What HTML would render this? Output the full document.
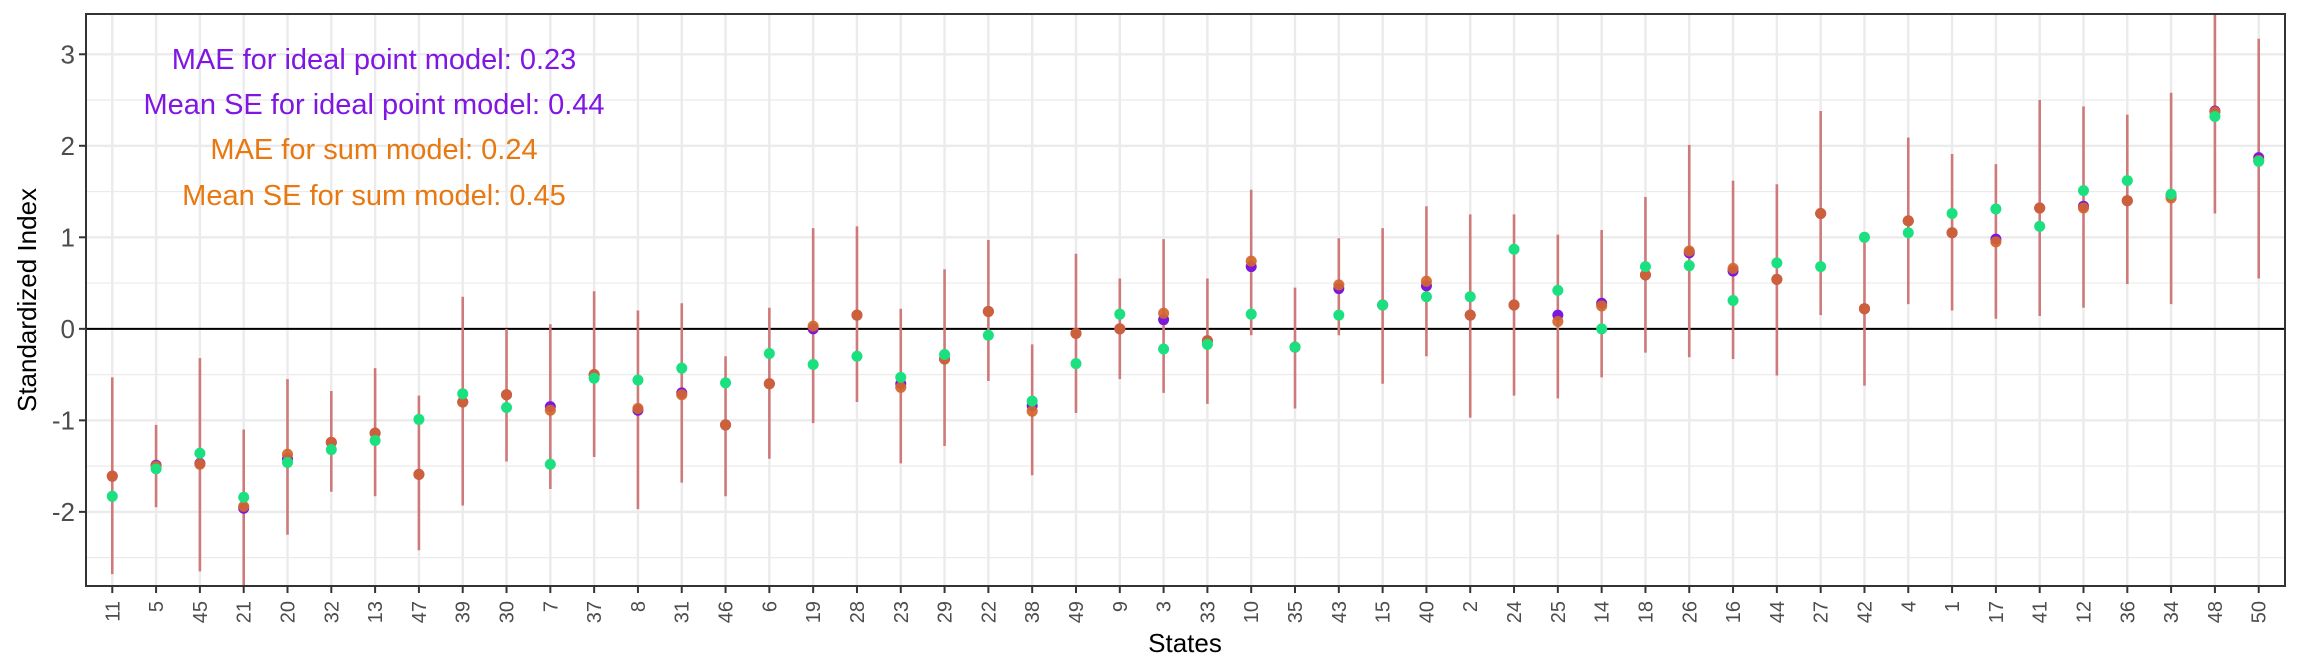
<!DOCTYPE html>
<html><head><meta charset="utf-8">
<style>
html,body{margin:0;padding:0;background:#fff;}
svg{display:block;font-family:"Liberation Sans",Arial,sans-serif;}
</style></head>
<body>
<svg id="chart" width="2304" height="672" viewBox="0 0 2304 672" xmlns="http://www.w3.org/2000/svg">
<rect x="0" y="0" width="2304" height="672" fill="#fff"/>
<g id="grid"></g>
<g id="marks"></g>
<g id="axes"></g>
<text x="374" y="69" font-size="29" fill="#7f16e3" text-anchor="middle">MAE for ideal point model: 0.23</text>
<text x="374" y="114" font-size="29" fill="#7f16e3" text-anchor="middle">Mean SE for ideal point model: 0.44</text>
<text x="374" y="159" font-size="29" fill="#e8780f" text-anchor="middle">MAE for sum model: 0.24</text>
<text x="374" y="205" font-size="29" fill="#e8780f" text-anchor="middle">Mean SE for sum model: 0.45</text>
<text x="1185" y="652" font-size="26" fill="#000" text-anchor="middle">States</text>
<text x="0" y="0" font-size="26" fill="#000" text-anchor="middle" transform="translate(36,300) rotate(-90)">Standardized Index</text>
</svg>
<script>
const categories=["11","5","45","21","20","32","13","47","39","30","7","37","8","31","46","6","19","28","23","29","22","38","49","9","3","33","10","35","43","15","40","2","24","25","14","18","26","16","44","27","42","4","1","17","41","12","36","34","48","50"];
const idealValues=[-1.61,-1.49,-1.47,-1.96,-1.42,-1.24,-1.14,-1.59,-0.80,-0.72,-0.85,-0.50,-0.89,-0.70,-1.05,-0.60,0.00,0.15,-0.60,-0.33,0.19,-0.84,-0.05,0.00,0.10,-0.13,0.68,-0.20,0.44,0.26,0.47,0.15,0.26,0.15,0.28,0.59,0.83,0.63,0.54,1.26,0.22,1.18,1.05,0.98,1.32,1.34,1.40,1.46,2.38,1.87];
const sumValues=[-1.61,-1.50,-1.48,-1.94,-1.37,-1.24,-1.14,-1.59,-0.80,-0.72,-0.89,-0.50,-0.87,-0.72,-1.05,-0.60,0.03,0.15,-0.64,-0.33,0.19,-0.90,-0.05,0.00,0.17,-0.13,0.74,-0.20,0.48,0.26,0.52,0.15,0.26,0.08,0.25,0.59,0.85,0.66,0.54,1.26,0.22,1.18,1.05,0.95,1.32,1.32,1.40,1.43,2.37,1.84];
const trueValues=[-1.83,-1.53,-1.36,-1.84,-1.46,-1.32,-1.22,-0.99,-0.71,-0.86,-1.48,-0.54,-0.56,-0.43,-0.59,-0.27,-0.39,-0.30,-0.53,-0.28,-0.07,-0.79,-0.38,0.16,-0.22,-0.17,0.16,-0.20,0.15,0.26,0.35,0.35,0.87,0.42,0.00,0.68,0.69,0.31,0.72,0.68,1.00,1.05,1.26,1.31,1.12,1.51,1.62,1.47,2.32,1.83];
const ciLow=[-2.68,-1.95,-2.65,-2.82,-2.25,-1.78,-1.83,-2.42,-1.93,-1.45,-1.75,-1.40,-1.97,-1.68,-1.83,-1.42,-1.03,-0.80,-1.47,-1.28,-0.57,-1.60,-0.92,-0.55,-0.70,-0.82,-0.07,-0.87,-0.07,-0.60,-0.30,-0.97,-0.73,-0.76,-0.53,-0.26,-0.31,-0.33,-0.51,0.15,-0.62,0.27,0.20,0.11,0.14,0.23,0.49,0.27,1.26,0.55];
const ciHigh=[-0.53,-1.05,-0.32,-1.10,-0.55,-0.68,-0.43,-0.73,0.35,0.00,0.05,0.41,0.20,0.28,-0.30,0.23,1.10,1.12,0.22,0.65,0.97,-0.17,0.82,0.55,0.98,0.55,1.52,0.45,0.99,1.10,1.34,1.25,1.25,1.03,1.08,1.44,2.01,1.62,1.58,2.38,0.99,2.09,1.91,1.80,2.50,2.43,2.34,2.58,3.45,3.17];
const yTicks=[-2,-1,0,1,2,3];

const NS="http://www.w3.org/2000/svg";
const L=86,R=2285,T=14,B=586,yMin=-2.81,yMax=3.44;
const n=categories.length;
function xs(i){return L+(i+0.6)*(R-L)/(n-1+1.2);}
function ys(v){v=Math.max(yMin,Math.min(yMax,v));return T+(yMax-v)/(yMax-yMin)*(B-T);}
function mk(tag,attrs,parent){const e=document.createElementNS(NS,tag);for(const k in attrs)e.setAttribute(k,attrs[k]);parent.appendChild(e);return e;}
const grid=document.getElementById('grid'),marks=document.getElementById('marks'),axes=document.getElementById('axes');

for(let v=-2.5;v<=3.5;v+=1){const l=mk('line',{x1:L,x2:R,y1:ys(v),y2:ys(v),stroke:'#ebebeb','stroke-width':1.2},grid);

}
yTicks.forEach(v=>{const l=mk('line',{x1:L,x2:R,y1:ys(v),y2:ys(v),stroke:'#ebebeb','stroke-width':2.4},grid);

});
categories.forEach((c,i)=>{const l=mk('line',{x1:xs(i),x2:xs(i),y1:T,y2:B,stroke:'#ebebeb','stroke-width':2.4},grid);

});
const z=mk('line',{x1:L,x2:R,y1:ys(0),y2:ys(0),stroke:'#000','stroke-width':2},grid);



categories.forEach((c,i)=>{
 const x=xs(i);
 const eb=mk('line',{x1:x,x2:x,y1:ys(ciLow[i]),y2:ys(ciHigh[i]),stroke:'#cf7a7a','stroke-width':2.6},marks);
 
 
});
categories.forEach((c,i)=>{
 const x=xs(i);
 const p=mk('circle',{cx:x,cy:ys(idealValues[i]),r:5.5,fill:'#7a18e0'},marks);
 
 
 const s=mk('circle',{cx:x,cy:ys(sumValues[i]),r:5.5,fill:'#e07a20','fill-opacity':0.85},marks);
 
 
 const s2=mk('circle',{cx:x,cy:ys(sumValues[i]),r:5.5,fill:'#c8553a','fill-opacity':0.5},marks);
 
 
 const t=mk('circle',{cx:x,cy:ys(trueValues[i]),r:5.5,fill:'#1ae07f'},marks);
 
 
});

const border=mk('rect',{x:L,y:T,width:R-L,height:B-T,fill:'none',stroke:'#333','stroke-width':2},axes);


yTicks.forEach(v=>{
 const tk=mk('line',{x1:L-7,x2:L,y1:ys(v),y2:ys(v),stroke:'#333','stroke-width':2},axes);
 
 
 const tx=mk('text',{x:L-11,y:ys(v)+9,'font-size':26,fill:'#4d4d4d','text-anchor':'end'},axes);
 tx.textContent=v;
 
 
});
categories.forEach((c,i)=>{
 const x=xs(i);
 const tk=mk('line',{x1:x,x2:x,y1:B,y2:B+7,stroke:'#333','stroke-width':2},axes);
 
 
 const tx=mk('text',{x:0,y:0,'font-size':20,fill:'#4d4d4d','text-anchor':'end',transform:`translate(${x+7},${B+15}) rotate(-90)`},axes);
 tx.textContent=c;
 
 
});
</script>
</body></html>
